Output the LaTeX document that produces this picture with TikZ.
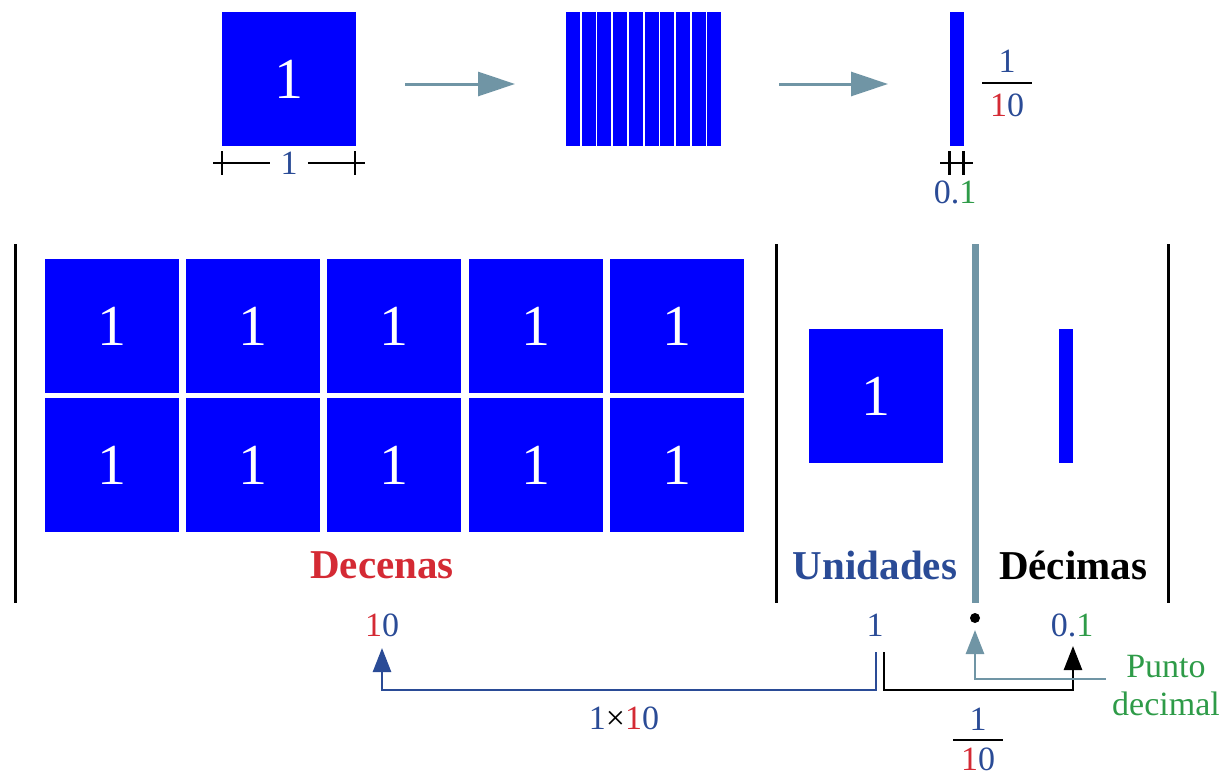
\documentclass[tikz,border=0pt]{standalone}
\usepackage{fontspec}
\setmainfont{Liberation Serif}
\usetikzlibrary{arrows.meta}
\definecolor{dblue}{HTML}{2A4B96}
\definecolor{dred}{HTML}{D42A34}
\definecolor{dgreen}{HTML}{2E9B48}
\definecolor{steel}{HTML}{7095A5}
\definecolor{sqblue}{HTML}{0000FF}
\begin{document}
\begin{tikzpicture}[x=0.5pt,y=-0.5pt,
  sq/.style={fill=sqblue, minimum width=67pt, minimum height=67pt, inner sep=0pt, text=white, font=\fontsize{29}{30}\selectfont},
  strip/.style={fill=sqblue, minimum width=7pt, minimum height=67pt, inner sep=0pt},
  num/.style={font=\fontsize{17}{19}\selectfont, text=dblue, inner sep=0pt},
  head/.style={font=\bfseries\fontsize{20.5}{22}\selectfont, inner sep=0pt},
  bigarrow/.style={steel, line width=1.5pt, -{Triangle[length=18.5pt,width=12pt]}},
  divider/.style={black, line width=1.5pt},
  bracket/.style={line width=1.3pt, -{Triangle[length=12pt,width=9pt]}},
  dimline/.style={black, line width=1.3pt}
]
\useasboundingbox (0,0) rectangle (1228,777);

% ---- top row ----
\node[sq] (top) at (289,79) {1};
\coordinate (d1) at (213,163);
\coordinate (d2) at (365,163);
\node[num] (dimone) at (289,163) {1};
\draw[dimline] (d1) -- ([xshift=-5pt]dimone.west);
\draw[dimline] ([xshift=5pt]dimone.east) -- (d2);
\draw[dimline] (222,151) -- (222,175);
\draw[dimline] (355,151) -- (355,175);

\coordinate (a1s) at (405,84);
\coordinate (a1e) at (515,84);
\draw[bigarrow] (a1s) -- (a1e);

\foreach \i in {0,...,9} \node[strip] (t\i) at ({573+15.7*\i},79) {};

\coordinate (a2s) at (779,84);
\coordinate (a2e) at (888,84);
\draw[bigarrow] (a2s) -- (a2e);

\node[strip] (tenth) at (956.5,79) {};
\coordinate (e1) at (940,163);
\coordinate (e2) at (973,163);
\draw[dimline] (e1) -- (e2);
\draw[dimline] (949.5,151) -- (949.5,175);
\draw[dimline] (963.5,151) -- (963.5,175);
\node[num] (pt1) at (955,192) {0.\textcolor{dgreen}{1}};

\node[num] (fn) at (1007,61) {1};
\node[num] (fd) at (1007,105) {\textcolor{dred}{1}0};
\draw[dimline] (982,83) -- (1032,83);

% ---- main table ----
\draw[divider] (15,244) -- (15,603);
\draw[divider] (776,244) -- (776,603);
\draw[divider] (1168,244) -- (1168,603);
\draw[steel, line width=3.5pt] (975,244) -- (975,603);

\foreach \c [count=\k] in {112,253,394,536,677} {
  \node[sq] (r1c\k) at (\c,326) {1};
  \node[sq] (r2c\k) at (\c,465) {1};
}
\node[sq] (unit) at (876,396) {1};
\node[strip] (dec) at (1066,396) {};

\node[head, text=dred] (decenas) at (382,565) {Decenas};
\node[head, text=dblue] (unidades) at (875,565) {Unidades};
\node[head, text=black] (decimas) at (1073,565) {Décimas};

% ---- bottom ----
\node[num] (ten) at (382,625) {\textcolor{dred}{1}0};
\node[num] (one) at (875,625) {1};
\node[circle, fill=black, minimum size=5pt, inner sep=0pt] (dot) at (975,618) {};
\node[num] (ptone) at (1072,625) {0.\textcolor{dgreen}{1}};

\coordinate (bstart) at (876,652);
\coordinate (bcorner) at (876,690);
\coordinate (btip) at (382,648);
\draw[bracket, dblue] (bstart) -- (bcorner) -| (btip);

\coordinate (kstart) at (884,652);
\coordinate (kcorner) at (884,690);
\coordinate (ktip) at (1073,646);
\draw[bracket, black] (kstart) -- (kcorner) -| (ktip);

\node[num, text=dgreen, align=center] (punto) at (1166,686) {Punto\\decimal};
\coordinate (gstart) at (1106,679);
\coordinate (gtip) at (975,630);
\draw[bracket, steel] (gstart) -| (gtip);

\node[num] (times) at (624,718) {1\textcolor{black}{×}\textcolor{dred}{1}0};
\node[num] (bn) at (978,719) {1};
\node[num] (bd) at (978,759) {\textcolor{dred}{1}0};
\draw[dimline] (953,740) -- (1003,740);
\end{tikzpicture}
\end{document}
